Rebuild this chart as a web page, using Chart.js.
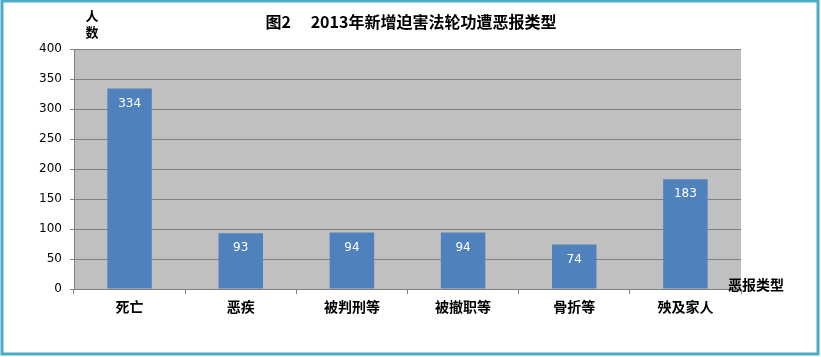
<!DOCTYPE html>
<html>
<head>
<meta charset="utf-8">
<script src="https://cdn.jsdelivr.net/npm/chart.js@4/dist/chart.umd.min.js"></script>
<style>
html,body{margin:0;padding:0;background:#fff;}
#wrap{position:relative;width:821px;height:357px;}
</style>
</head>
<body>
<div id="wrap"><canvas id="c" width="821" height="357"></canvas></div>
<script>
const categories = ['死亡', '恶疾', '被判刑等', '被撤职等', '骨折等', '殃及家人'];
const values = [334, 93, 94, 94, 74, 183];
const yTicks = [0, 50, 100, 150, 200, 250, 300, 350, 400];
const titleText = '图2\u3000 2013年新增迫害法轮功遭恶报类型';
const yAxisTitle = ['人', '数'];
const xAxisTitle = '恶报类型';

const CJK = '"Noto Sans CJK SC", sans-serif';

const decor = {
  id: 'decor',
  beforeDraw(chart) {
    const {ctx, chartArea: a} = chart;
    ctx.save();
    ctx.fillStyle = '#fff';
    ctx.fillRect(0, 0, chart.width, chart.height);
    ctx.fillStyle = '#C0C0C0';
    ctx.fillRect(a.left, a.top, a.right - a.left, a.bottom - a.top);
    ctx.restore();
  },
  afterDraw(chart) {
    const {ctx, chartArea: a} = chart;
    ctx.save();
    ctx.fillStyle = '#000';
    ctx.font = 'bold 16px ' + CJK;
    ctx.textAlign = 'center';
    ctx.textBaseline = 'middle';
    ctx.fillText(titleText, 411, 22);
    ctx.font = 'bold 13px ' + CJK;
    yAxisTitle.forEach((ch, i) => ctx.fillText(ch, 92, 16 + i * 16));
    ctx.font = 'bold 14px ' + CJK;
    ctx.textAlign = 'left';
    ctx.fillText(xAxisTitle, 728, 285);
    const meta = chart.getDatasetMeta(0);
    ctx.font = '12px "DejaVu Sans", sans-serif';
    ctx.fillStyle = '#fff';
    ctx.textAlign = 'center';
    meta.data.forEach((bar, i) => {
      ctx.fillText(String(values[i]), bar.x, bar.y + 15);
    });
    ctx.strokeStyle = '#4BACC6';
    ctx.lineWidth = 3;
    ctx.strokeRect(2, 1, 816, 353);
    ctx.restore();
  }
};

new Chart(document.getElementById('c'), {
  type: 'bar',
  data: {
    labels: categories,
    datasets: [{
      data: values,
      backgroundColor: '#4F81BD',
      borderWidth: 0,
      barPercentage: 0.4,
      categoryPercentage: 1.0
    }]
  },
  options: {
    responsive: false,
    animation: false,
    devicePixelRatio: 1,
    layout: {padding: {top: 49, right: 80, left: 0, bottom: 0}},
    plugins: {legend: {display: false}, tooltip: {enabled: false}, title: {display: false}},
    scales: {
      x: {
        grid: {display: true, drawOnChartArea: false, drawTicks: true, tickLength: 5, color: '#808080', offset: true},
        border: {display: true, color: '#808080', width: 1},
        ticks: {color: '#000', padding: 4, font: {family: CJK, size: 14, weight: 'bold'}, maxRotation: 0, autoSkip: false},
        afterFit(scale) { scale.height = 68; }
      },
      y: {
        min: 0, max: 400,
        afterBuildTicks(scale) { scale.ticks = yTicks.map(v => ({value: v})); },
        grid: {color: '#808080', drawTicks: true, tickLength: 4, lineWidth: 1},
        border: {display: true, color: '#808080', width: 1},
        ticks: {color: '#000', padding: 8, font: {family: '"DejaVu Sans", sans-serif', size: 12}},
        afterFit(scale) { scale.width = 74; }
      }
    }
  },
  plugins: [decor]
});
</script>
</body>
</html>
